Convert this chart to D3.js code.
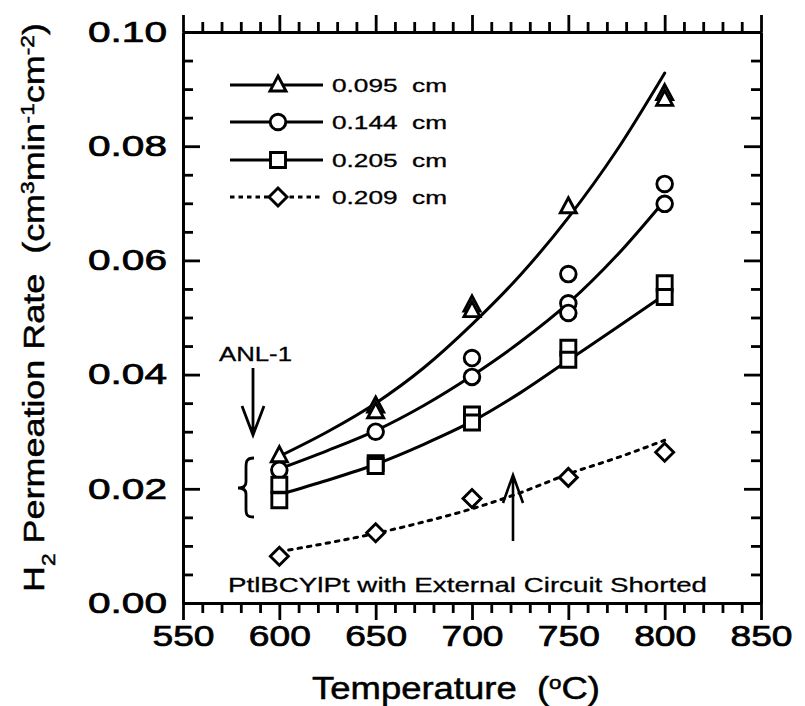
<!DOCTYPE html>
<html>
<head>
<meta charset="utf-8">
<script src="https://cdn.jsdelivr.net/npm/d3@7"></script>
<style>
  body { margin: 0; background: #fff; }
  svg { display: block; }
  text { font-family: "Liberation Sans", Arial, Helvetica, sans-serif; fill: #000; white-space: pre; }
</style>
</head>
<body>
<svg id="chart" width="805" height="706"></svg>
<script>
// ---------------- DATA ----------------
const seriesLabels = ["0.095\u00a0\u00a0cm", "0.144\u00a0\u00a0cm", "0.205\u00a0\u00a0cm", "0.209\u00a0\u00a0cm"];

// measured points (Temperature °C, rate cm3 min-1 cm-2)
const tempA = [600, 650, 650, 700, 700, 750, 800, 800];
const rateA = [0.0258, 0.0345, 0.0335, 0.0522, 0.0512, 0.0694, 0.0892, 0.0882];

const tempB = [600, 650, 700, 700, 750, 750, 750, 800, 800];
const rateB = [0.0233, 0.0300, 0.0429, 0.0396, 0.0576, 0.0525, 0.0508, 0.0734, 0.0699];

const tempC = [600, 600, 650, 650, 700, 700, 750, 750, 800, 800];
const rateC = [0.0207, 0.0180, 0.0245, 0.0240, 0.0330, 0.0316, 0.0447, 0.0426, 0.0560, 0.0536];

const tempD = [600, 650, 700, 750, 800];
const rateD = [0.0082, 0.0123, 0.0183, 0.0220, 0.0264];

// fitted curves
const fitTemps = [600, 625, 650, 675, 700, 725, 750, 775, 800];
const fitA = [0.0257, 0.0300, 0.0350, 0.0412, 0.0488, 0.0574, 0.0675, 0.0792, 0.0928];
const fitB = [0.0235, 0.0267, 0.0302, 0.0346, 0.0398, 0.0457, 0.0525, 0.0608, 0.0705];
const fitC = [0.0190, 0.0215, 0.0243, 0.0278, 0.0318, 0.0368, 0.0425, 0.0482, 0.0540];
const fitD = [0.0090, 0.0105, 0.0122, 0.0142, 0.0165, 0.0193, 0.0226, 0.0254, 0.0285];

const xMajorTicks = [550, 600, 650, 700, 750, 800, 850];
const yMajorTicks = [0, 0.02, 0.04, 0.06, 0.08, 0.10];
const yTickLabels = ["0.00", "0.02", "0.04", "0.06", "0.08", "0.10"];

// ---------------- LAYOUT ----------------
const L = 183, R = 761, T = 32, B = 603;
const svg = d3.select("#chart");
const x = d3.scaleLinear().domain([550, 850]).range([L, R]);
const y = d3.scaleLinear().domain([0, 0.10]).range([B, T]);

const SW = 2.8;

const xMinor = d3.range(550, 851, 10).filter(v => v % 50 !== 0);
const yMinor = d3.range(0, 21).filter(i => i % 4 !== 0).map(i => i * 0.005);

function styleAxis(g) {
  g.select(".domain").attr("stroke", "#000").attr("stroke-width", SW);
  g.selectAll(".tick line").attr("stroke", "#000").attr("stroke-width", SW);
}
function heavy(sel, w) {
  sel.attr("stroke", "#000").attr("stroke-width", w).attr("paint-order", "stroke");
}

// bottom
svg.append("g").attr("transform", `translate(0,${B})`)
  .call(d3.axisBottom(x).tickValues(xMinor).tickSize(10).tickSizeOuter(0).tickFormat(""))
  .call(styleAxis);
const gxb = svg.append("g").attr("transform", `translate(0,${B})`)
  .call(d3.axisBottom(x).tickValues(xMajorTicks).tickSize(17).tickSizeOuter(0).tickPadding(5).tickFormat(d3.format("d")))
  .call(styleAxis);
gxb.selectAll(".tick text")
  .attr("font-size", 29).attr("font-family", "Liberation Sans, Arial, sans-serif")
  .attr("textLength", 62).attr("lengthAdjust", "spacingAndGlyphs").call(heavy, 0.7);

// top
svg.append("g").attr("transform", `translate(0,${T})`)
  .call(d3.axisTop(x).tickValues(xMinor).tickSize(10).tickSizeOuter(0).tickFormat(""))
  .call(styleAxis);
svg.append("g").attr("transform", `translate(0,${T})`)
  .call(d3.axisTop(x).tickValues(xMajorTicks).tickSize(17).tickSizeOuter(0).tickFormat(""))
  .call(styleAxis);

// left
svg.append("g").attr("transform", `translate(${L},0)`)
  .call(d3.axisLeft(y).tickValues(yMinor).tickSize(-10).tickSizeOuter(0).tickFormat(""))
  .call(styleAxis);
const gyl = svg.append("g").attr("transform", `translate(${L},0)`)
  .call(d3.axisLeft(y).tickValues(yMajorTicks).tickSize(-17).tickSizeOuter(0).tickPadding(16)
    .tickFormat((d, i) => yTickLabels[i]))
  .call(styleAxis);
gyl.selectAll(".tick text")
  .attr("font-size", 29).attr("font-family", "Liberation Sans, Arial, sans-serif")
  .attr("textLength", 79).attr("lengthAdjust", "spacingAndGlyphs").call(heavy, 0.7);

// right
svg.append("g").attr("transform", `translate(${R},0)`)
  .call(d3.axisRight(y).tickValues(yMinor).tickSize(-10).tickSizeOuter(0).tickFormat(""))
  .call(styleAxis);
svg.append("g").attr("transform", `translate(${R},0)`)
  .call(d3.axisRight(y).tickValues(yMajorTicks).tickSize(-17).tickSizeOuter(0).tickFormat(""))
  .call(styleAxis);

// ---------------- AXIS TITLES ----------------
const xt = svg.append("text").attr("x", 312).attr("y", 699)
  .attr("font-size", 31).attr("textLength", 288).attr("lengthAdjust", "spacingAndGlyphs").call(heavy, 0.5);
xt.append("tspan").text("Temperature\u00a0\u00a0(");
xt.append("tspan").attr("baseline-shift", "super").attr("font-size", 19).text("o");
xt.append("tspan").text("C)");

const yt = svg.append("text")
  .attr("transform", "translate(44,592) rotate(-90)")
  .attr("x", 0).attr("y", 0)
  .attr("font-size", 30).attr("textLength", 569).attr("lengthAdjust", "spacingAndGlyphs").call(heavy, 0.5);
yt.append("tspan").text("H");
yt.append("tspan").attr("baseline-shift", "sub").attr("font-size", 19).text("2");
yt.append("tspan").text("\u00a0Permeation\u00a0Rate\u00a0\u00a0(cm");
yt.append("tspan").attr("baseline-shift", "super").attr("font-size", 19).text("3");
yt.append("tspan").text("min");
yt.append("tspan").attr("baseline-shift", "super").attr("font-size", 19).text("-1");
yt.append("tspan").text("cm");
yt.append("tspan").attr("baseline-shift", "super").attr("font-size", 19).text("-2");
yt.append("tspan").text(")");

// ---------------- CURVES ----------------
const line = d3.line().x(d => x(d[0])).y(d => y(d[1])).curve(d3.curveMonotoneX);
const fits = [fitA, fitB, fitC, fitD];
fits.forEach((f, i) => {
  svg.append("path")
    .attr("d", line(fitTemps.map((t, j) => [t, f[j]])))
    .attr("fill", "none").attr("stroke", "#000")
    .attr("stroke-width", i === 3 ? 3 : 3)
    .attr("stroke-linecap", "round")
    .attr("stroke-dasharray", i === 3 ? "3.5,6" : null);
});

// ---------------- MARKERS ----------------
function drawMarker(g, type, cx, cy) {
  const st = { fill: "#fff", stroke: "#000", sw: 2.9 };
  if (type === 1) {
    g.append("circle").attr("cx", cx).attr("cy", cy).attr("r", 7.8)
      .attr("fill", st.fill).attr("stroke", st.stroke).attr("stroke-width", st.sw);
    return;
  }
  let d;
  if (type === 0) {
    d = `M${cx},${cy - 9} L${cx + 8},${cy + 6} L${cx - 8},${cy + 6} Z`;
  } else if (type === 2) {
    d = `M${cx - 7.5},${cy - 7.5} h15 v15 h-15 Z`;
  } else {
    d = `M${cx},${cy - 9} L${cx + 9},${cy} L${cx},${cy + 9} L${cx - 9},${cy} Z`;
  }
  g.append("path").attr("d", d)
    .attr("fill", st.fill).attr("stroke", st.stroke).attr("stroke-width", st.sw)
    .attr("stroke-linejoin", "miter");
}
const markG = svg.append("g");
const pts = [[tempA, rateA], [tempB, rateB], [tempC, rateC], [tempD, rateD]];
pts.forEach((p, k) => {
  p[0].forEach((t, j) => drawMarker(markG, k, x(t), y(p[1][j])));
});

// ---------------- LEGEND ----------------
const legY = [85, 122, 160, 197];
const legG = svg.append("g");
seriesLabels.forEach((lab, i) => {
  legG.append("line").attr("x1", 230).attr("x2", 323).attr("y1", legY[i]).attr("y2", legY[i])
    .attr("stroke", "#000").attr("stroke-width", 2.8)
    .attr("stroke-dasharray", i === 3 ? "4.5,4" : null);
  drawMarker(legG, i, 278, legY[i]);
  legG.append("text").attr("x", 332).attr("y", legY[i] + 6.5)
    .attr("font-size", 18).attr("textLength", 115).attr("lengthAdjust", "spacingAndGlyphs")
    .call(heavy, 0.3)
    .text(lab);
});

// ---------------- ANNOTATIONS ----------------
svg.append("text").attr("x", 219).attr("y", 361).attr("font-size", 20)
  .attr("textLength", 73).attr("lengthAdjust", "spacingAndGlyphs").call(heavy, 0.3).text("ANL-1");
svg.append("path").attr("d", "M253,368 L253,434 M242,406 L253,435 L264,406")
  .attr("fill", "none").attr("stroke", "#000").attr("stroke-width", 2.8);

// brace
svg.append("path")
  .attr("d", "M254,458 C246,458 246,462 246,468 L246,482 C246,486 243,488 238,488 C243,488 246,490 246,494 L246,508 C246,514 246,517 254,517")
  .attr("fill", "none").attr("stroke", "#000").attr("stroke-width", 2.8);

svg.append("path").attr("d", "M513,541 L513,476 M503,503 L513,475 L523,503")
  .attr("fill", "none").attr("stroke", "#000").attr("stroke-width", 2.6);

svg.append("text").attr("x", 228).attr("y", 592).attr("font-size", 21)
  .attr("textLength", 479).attr("lengthAdjust", "spacingAndGlyphs").call(heavy, 0.3)
  .text("PtlBCYlPt\u00a0with\u00a0External\u00a0Circuit\u00a0Shorted");
</script>
</body>
</html>
